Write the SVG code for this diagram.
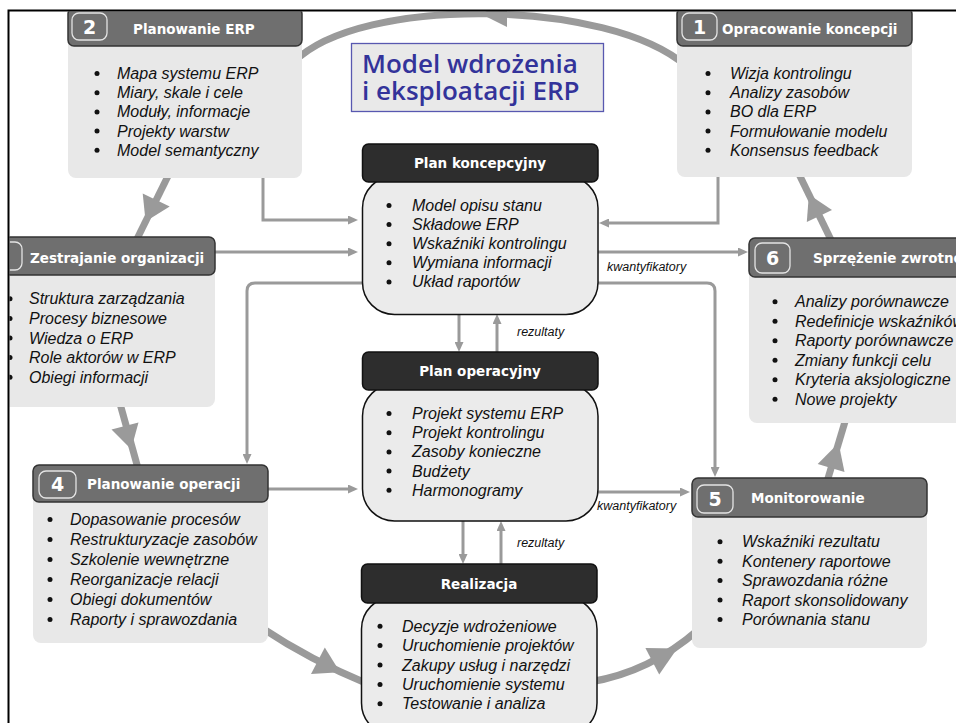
<svg xmlns="http://www.w3.org/2000/svg" width="956" height="723" viewBox="0 0 956 723">
  <defs>
    <style>
      .head { fill: #6f6f6f; stroke: #333; stroke-width: 1.5; }
      .body { fill: #e8e8e8; }
      .badge { fill: none; stroke: #e4e4e4; stroke-width: 1.3; }
      .num { font: bold 19px "DejaVu Sans", sans-serif; fill: #fff; text-anchor: middle; }
      .ttl { font: bold 13.5px "DejaVu Sans", sans-serif; fill: #fff; }
      .ctl { font: bold 13.5px "DejaVu Sans", sans-serif; fill: #fff; text-anchor: middle; }
      .item { font: italic 16px "Liberation Sans", Arial, sans-serif; fill: #111; }
      .dot { fill: #111; }
      .dark { fill: #2d2d2d; stroke: #111; stroke-width: 1.5; }
      .cbody { fill: #ebebeb; stroke: #111; stroke-width: 1.5; }
      .ring { fill: none; stroke: #9a9a9a; stroke-width: 7; }
      .ringhead { fill: #9a9a9a; }
      .link { fill: none; stroke: #9a9a9a; stroke-width: 3; }
      .lbl { font: italic 12.5px "Liberation Sans", Arial, sans-serif; fill: #111; }
      .title { font: 600 26px "Open Sans", "DejaVu Sans", sans-serif; fill: #33339a; }
    </style>
    <marker id="arr" viewBox="0 0 10 9" refX="2" refY="4.5" markerWidth="10" markerHeight="9" markerUnits="userSpaceOnUse" orient="auto">
      <path d="M0,0 L10,4.5 L0,9 z" fill="#9a9a9a"/>
    </marker>
    <clipPath id="page">
      <rect x="9.5" y="11.5" width="947" height="712"/>
    </clipPath>
  </defs>

  <rect x="0" y="0" width="956" height="723" fill="#fff"/>

  <g clip-path="url(#page)">
    <!-- connectors: the big cycle and the thin flow lines -->
    <g id="connectors">
      <path class="ring" d="M686 66 C610 -1 360 -5 294 62"/>
      <polygon class="ringhead" points="481,14 507,1 507,27"/>

      <path class="ring" d="M171 170 L134 245"/>
      <polygon class="ringhead" points="142.7,193.4 169.7,206.6 145.6,221.5"/>

      <path class="ring" d="M119 400 L139 472"/>
      <polygon class="ringhead" points="138.5,422.4 111.5,429.6 131.2,449.2"/>

      <path class="ring" d="M262 628 Q310 660 368 684"/>
      <polygon class="ringhead" points="324.8,647.5 311,674.1 340.1,672.3"/>

      <path class="ring" d="M590 682 Q650 672 698 630"/>
      <polygon class="ringhead" points="659.2,674.6 645.4,648 677.2,648.4"/>

      <path class="ring" d="M826 485 L847 415"/>
      <polygon class="ringhead" points="844.5,472 817.7,464 838.6,443.1"/>

      <path class="ring" d="M834 246 L796 168"/>
      <polygon class="ringhead" points="832,209.9 806.8,222.1 808.9,194.4"/>

      <path class="link" d="M263 178 V220 H350" marker-end="url(#arr)"/>
      <path class="link" d="M215 252 H350" marker-end="url(#arr)"/>
      <path class="link" d="M718 177 V223 H607" marker-end="url(#arr)"/>
      <path class="link" d="M598 252 H740" marker-end="url(#arr)"/>
      <path class="link" d="M598 283 H707 Q715 283 715 291 V469" marker-end="url(#arr)"/>
      <path class="link" d="M362 283 H255 Q247 283 247 291 V456" marker-end="url(#arr)"/>
      <path class="link" d="M268 489 H350" marker-end="url(#arr)"/>
      <path class="link" d="M598 492 H682" marker-end="url(#arr)"/>
      <path class="link" d="M459 314 V344" marker-end="url(#arr)"/>
      <path class="link" d="M497 352 V322" marker-end="url(#arr)"/>
      <path class="link" d="M463 521 V556" marker-end="url(#arr)"/>
      <path class="link" d="M501 564 V529" marker-end="url(#arr)"/>

      <text class="lbl" x="607" y="271">kwantyfikatory</text>
      <text class="lbl" x="597" y="510">kwantyfikatory</text>
      <text class="lbl" x="517" y="336">rezultaty</text>
      <text class="lbl" x="517" y="547">rezultaty</text>
    </g>

    <!-- title -->
    <g id="title">
      <rect x="351.5" y="43.5" width="252" height="68" fill="#e9e9e9" stroke="#5858b0" stroke-width="1.3"/>
      <text class="title" x="362" y="73">Model wdrożenia</text>
      <text class="title" x="362" y="100">i eksploatacji ERP</text>
    </g>

    <!-- 2 Planowanie ERP -->
    <g id="step-2">
      <rect class="body" x="68" y="36" width="234" height="142" rx="8"/>
      <rect class="head" x="68" y="8" width="234" height="38" rx="6"/>
      <rect class="badge" x="72" y="13" width="35" height="27" rx="7"/>
      <text class="num" x="89.5" y="34">2</text>
      <text class="ttl" x="133" y="34">Planowanie ERP</text>
      <g class="dot">
        <circle cx="97" cy="73.5" r="2.5"/><circle cx="97" cy="92.7" r="2.5"/><circle cx="97" cy="111.9" r="2.5"/><circle cx="97" cy="131.1" r="2.5"/><circle cx="97" cy="150.3" r="2.5"/>
      </g>
      <text class="item">
        <tspan x="117" y="79">Mapa systemu ERP</tspan>
        <tspan x="117" y="98.2">Miary, skale i cele</tspan>
        <tspan x="117" y="117.4">Moduły, informacje</tspan>
        <tspan x="117" y="136.6">Projekty warstw</tspan>
        <tspan x="117" y="155.8">Model semantyczny</tspan>
      </text>
    </g>

    <!-- 1 Opracowanie koncepcji -->
    <g id="step-1">
      <rect class="body" x="677" y="36" width="235" height="141" rx="8"/>
      <rect class="head" x="677" y="8" width="235" height="38" rx="6"/>
      <rect class="badge" x="682" y="13" width="35" height="27" rx="7"/>
      <text class="num" x="699.5" y="34">1</text>
      <text class="ttl" x="722" y="34">Opracowanie koncepcji</text>
      <g class="dot">
        <circle cx="708" cy="73.5" r="2.5"/><circle cx="708" cy="92.7" r="2.5"/><circle cx="708" cy="111.9" r="2.5"/><circle cx="708" cy="131.1" r="2.5"/><circle cx="708" cy="150.3" r="2.5"/>
      </g>
      <text class="item">
        <tspan x="730" y="79">Wizja kontrolingu</tspan>
        <tspan x="730" y="98.2">Analizy zasobów</tspan>
        <tspan x="730" y="117.4">BO dla ERP</tspan>
        <tspan x="730" y="136.6">Formułowanie modelu</tspan>
        <tspan x="730" y="155.8">Konsensus feedback</tspan>
      </text>
    </g>

    <!-- 3 Zestrajanie organizacji -->
    <g id="step-3">
      <rect class="body" x="-20" y="265" width="235" height="142" rx="8"/>
      <rect class="head" x="-20" y="237" width="235" height="38" rx="6"/>
      <rect class="badge" x="-14" y="242" width="36" height="28" rx="7"/>
      <text class="ttl" x="30" y="263">Zestrajanie organizacji</text>
      <g class="dot">
        <circle cx="10" cy="298.8" r="2.5"/><circle cx="10" cy="318.4" r="2.5"/><circle cx="10" cy="338" r="2.5"/><circle cx="10" cy="357.6" r="2.5"/><circle cx="10" cy="377.2" r="2.5"/>
      </g>
      <text class="item">
        <tspan x="29" y="304.3">Struktura zarządzania</tspan>
        <tspan x="29" y="323.9">Procesy biznesowe</tspan>
        <tspan x="29" y="343.5">Wiedza o ERP</tspan>
        <tspan x="29" y="363.1">Role aktorów w ERP</tspan>
        <tspan x="29" y="382.7">Obiegi informacji</tspan>
      </text>
    </g>

    <!-- 6 Sprzężenie zwrotne -->
    <g id="step-6">
      <rect class="body" x="749" y="267" width="235" height="156" rx="8"/>
      <rect class="head" x="749" y="238" width="235" height="39" rx="6"/>
      <rect class="badge" x="755" y="243" width="35" height="30" rx="7"/>
      <text class="num" x="772.5" y="265">6</text>
      <text class="ttl" x="813" y="263">Sprzężenie zwrotne</text>
      <g class="dot">
        <circle cx="775" cy="301.8" r="2.5"/><circle cx="775" cy="321.3" r="2.5"/><circle cx="775" cy="340.8" r="2.5"/><circle cx="775" cy="360.3" r="2.5"/><circle cx="775" cy="379.8" r="2.5"/><circle cx="775" cy="399.3" r="2.5"/>
      </g>
      <text class="item">
        <tspan x="795" y="307.3">Analizy porównawcze</tspan>
        <tspan x="795" y="326.8">Redefinicje wskaźników</tspan>
        <tspan x="795" y="346.3">Raporty porównawcze</tspan>
        <tspan x="795" y="365.8">Zmiany funkcji celu</tspan>
        <tspan x="795" y="385.3">Kryteria aksjologiczne</tspan>
        <tspan x="795" y="404.8">Nowe projekty</tspan>
      </text>
    </g>

    <!-- 4 Planowanie operacji -->
    <g id="step-4">
      <rect class="body" x="33" y="492" width="235" height="151" rx="8"/>
      <rect class="head" x="33" y="465" width="235" height="37" rx="6"/>
      <rect class="badge" x="39" y="471" width="37" height="27" rx="7"/>
      <text class="num" x="57.5" y="491">4</text>
      <text class="ttl" x="87" y="489">Planowanie operacji</text>
      <g class="dot">
        <circle cx="50" cy="519.5" r="2.5"/><circle cx="50" cy="539.5" r="2.5"/><circle cx="50" cy="559.5" r="2.5"/><circle cx="50" cy="579.5" r="2.5"/><circle cx="50" cy="599.5" r="2.5"/><circle cx="50" cy="619.5" r="2.5"/>
      </g>
      <text class="item">
        <tspan x="70" y="525">Dopasowanie procesów</tspan>
        <tspan x="70" y="545">Restrukturyzacje zasobów</tspan>
        <tspan x="70" y="565">Szkolenie wewnętrzne</tspan>
        <tspan x="70" y="585">Reorganizacje relacji</tspan>
        <tspan x="70" y="605">Obiegi dokumentów</tspan>
        <tspan x="70" y="625">Raporty i sprawozdania</tspan>
      </text>
    </g>

    <!-- 5 Monitorowanie -->
    <g id="step-5">
      <rect class="body" x="692" y="507" width="235" height="141" rx="8"/>
      <rect class="head" x="692" y="478" width="235" height="39" rx="6"/>
      <rect class="badge" x="697" y="485" width="36" height="28" rx="7"/>
      <text class="num" x="715" y="506">5</text>
      <text class="ttl" x="751" y="503">Monitorowanie</text>
      <g class="dot">
        <circle cx="720" cy="541.8" r="2.5"/><circle cx="720" cy="561.2" r="2.5"/><circle cx="720" cy="580.6" r="2.5"/><circle cx="720" cy="600" r="2.5"/><circle cx="720" cy="619.4" r="2.5"/>
      </g>
      <text class="item">
        <tspan x="742" y="547.3">Wskaźniki rezultatu</tspan>
        <tspan x="742" y="566.7">Kontenery raportowe</tspan>
        <tspan x="742" y="586.1">Sprawozdania różne</tspan>
        <tspan x="742" y="605.5">Raport skonsolidowany</tspan>
        <tspan x="742" y="624.9">Porównania stanu</tspan>
      </text>
    </g>

    <!-- Plan koncepcyjny -->
    <g id="plan-koncepcyjny">
      <rect class="cbody" x="362.5" y="176" width="235.5" height="138.5" rx="32"/>
      <rect class="dark" x="362.5" y="144" width="235.5" height="38" rx="6"/>
      <text class="ctl" x="480" y="168">Plan koncepcyjny</text>
      <g class="dot">
        <circle cx="389" cy="205.5" r="2.5"/><circle cx="389" cy="224.6" r="2.5"/><circle cx="389" cy="243.7" r="2.5"/><circle cx="389" cy="262.8" r="2.5"/><circle cx="389" cy="281.9" r="2.5"/>
      </g>
      <text class="item">
        <tspan x="412" y="211">Model opisu stanu</tspan>
        <tspan x="412" y="230.1">Składowe ERP</tspan>
        <tspan x="412" y="249.2">Wskaźniki kontrolingu</tspan>
        <tspan x="412" y="268.3">Wymiana informacji</tspan>
        <tspan x="412" y="287.4">Układ raportów</tspan>
      </text>
    </g>

    <!-- Plan operacyjny -->
    <g id="plan-operacyjny">
      <rect class="cbody" x="362.5" y="384" width="235.5" height="137" rx="32"/>
      <rect class="dark" x="362.5" y="352" width="235.5" height="38" rx="6"/>
      <text class="ctl" x="480" y="376">Plan operacyjny</text>
      <g class="dot">
        <circle cx="389" cy="413.5" r="2.5"/><circle cx="389" cy="432.7" r="2.5"/><circle cx="389" cy="451.9" r="2.5"/><circle cx="389" cy="471.1" r="2.5"/><circle cx="389" cy="490.3" r="2.5"/>
      </g>
      <text class="item">
        <tspan x="412" y="419">Projekt systemu ERP</tspan>
        <tspan x="412" y="438.2">Projekt kontrolingu</tspan>
        <tspan x="412" y="457.4">Zasoby konieczne</tspan>
        <tspan x="412" y="476.6">Budżety</tspan>
        <tspan x="412" y="495.8">Harmonogramy</tspan>
      </text>
    </g>

    <!-- Realizacja -->
    <g id="realizacja">
      <rect class="cbody" x="361.5" y="597" width="235.5" height="138" rx="32"/>
      <rect class="dark" x="361.5" y="564" width="235.5" height="39" rx="6"/>
      <text class="ctl" x="479" y="589">Realizacja</text>
      <g class="dot">
        <circle cx="380" cy="626.2" r="2.5"/><circle cx="380" cy="645.6" r="2.5"/><circle cx="380" cy="665" r="2.5"/><circle cx="380" cy="684.4" r="2.5"/><circle cx="380" cy="703.8" r="2.5"/>
      </g>
      <text class="item">
        <tspan x="402" y="631.7">Decyzje wdrożeniowe</tspan>
        <tspan x="402" y="651.1">Uruchomienie projektów</tspan>
        <tspan x="402" y="670.5">Zakupy usług i narzędzi</tspan>
        <tspan x="402" y="689.9">Uruchomienie systemu</tspan>
        <tspan x="402" y="709.3">Testowanie i analiza</tspan>
      </text>
    </g>
  </g>

  <!-- page frame -->
  <path d="M8.5 723 V10.5 H956" fill="none" stroke="#000" stroke-width="2"/>
</svg>
